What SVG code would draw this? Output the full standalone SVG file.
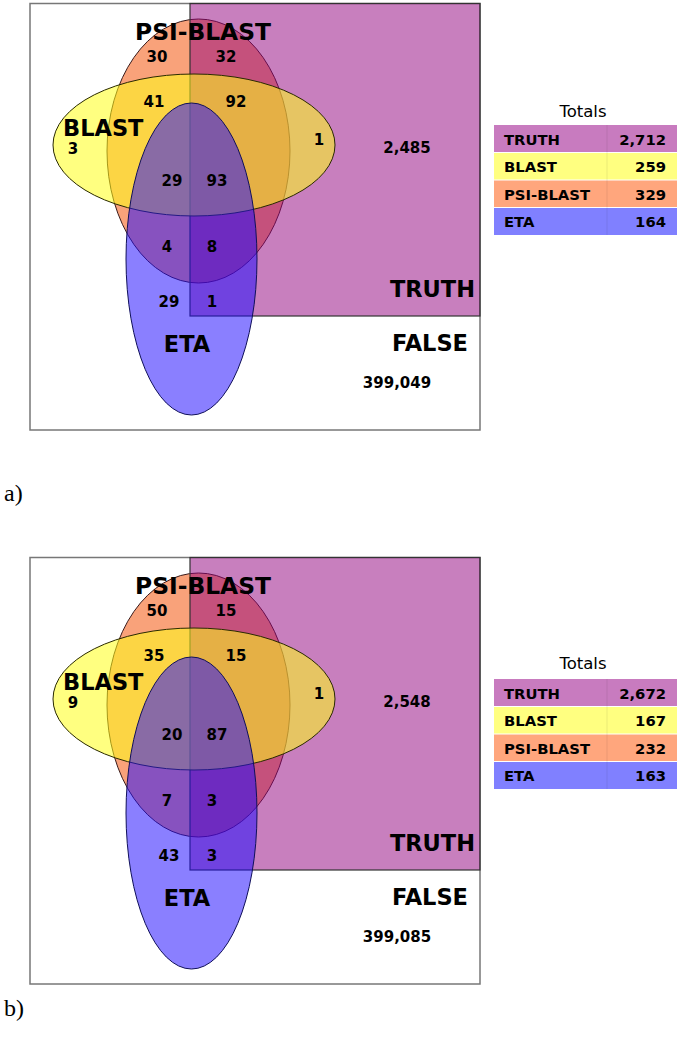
<svg xmlns="http://www.w3.org/2000/svg" width="685" height="1042" viewBox="0 0 685 1042">
<style>
.frame{fill:#fff;stroke:#777;stroke-width:1.5}
.psi{fill:#F9A27A;stroke:#3a1a1a;stroke-width:1}
.truth{fill:#91007D;fill-opacity:0.5;stroke:#333;stroke-width:1.2}
.blast{fill:#FFFF18;fill-opacity:0.55;stroke:#2a2a00;stroke-width:1}
.eta{fill:#1E0AFF;fill-opacity:0.52;stroke:#10105a;stroke-width:1}
text{font-family:"DejaVu Sans","Verdana",sans-serif;fill:#000}
.big{font-size:22.5px;font-weight:bold}
.num{font-size:15px;font-weight:bold;text-anchor:middle}
.mid{text-anchor:middle}
.end{text-anchor:end}
.tot{font-size:16.5px;text-anchor:middle}
.row{font-size:14.8px;font-weight:bold}
.sep{stroke:#fff;stroke-width:1}
.col{stroke:#000;stroke-opacity:0.08;stroke-width:1}
.tag{font-family:"Liberation Serif","Times New Roman",serif;font-size:24px}
</style>
<g id="connectors"/>
<g id="panel-a">
  <rect class="frame" x="30" y="3.5" width="450" height="426.5"/>
  <g id="a-psiblast"><ellipse class="psi" cx="198.5" cy="151" rx="91.5" ry="132"/></g>
  <g id="a-truth"><rect class="truth" x="190" y="3.5" width="290" height="312.5"/></g>
  <g id="a-blast"><ellipse class="blast" cx="194" cy="145" rx="141" ry="71"/></g>
  <g id="a-eta"><ellipse class="eta" cx="191.5" cy="259" rx="65.5" ry="156"/></g>
  <g id="a-labels">
    <text class="big mid" x="203" y="40" textLength="136" lengthAdjust="spacingAndGlyphs">PSI-BLAST</text>
    <text class="big" x="63" y="136">BLAST</text>
    <text class="big end" x="475" y="297">TRUTH</text>
    <text class="big end" x="468" y="351">FALSE</text>
    <text class="big mid" x="187" y="352">ETA</text>
    <text class="num" x="157" y="62">30</text>
    <text class="num" x="226" y="62">32</text>
    <text class="num" x="154" y="107">41</text>
    <text class="num" x="236" y="107">92</text>
    <text class="num" x="73" y="154">3</text>
    <text class="num" x="319" y="145">1</text>
    <text class="num" x="407" y="153">2,485</text>
    <text class="num" x="172" y="186">29</text>
    <text class="num" x="217" y="186">93</text>
    <text class="num" x="167" y="252">4</text>
    <text class="num" x="212" y="252">8</text>
    <text class="num" x="169" y="307">29</text>
    <text class="num" x="212" y="307">1</text>
    <text class="num" x="397" y="388">399,049</text>
  </g>
  <g id="a-totals">
    <text class="tot" x="583" y="117">Totals</text>
    <rect x="494" y="125" width="183" height="27.5" fill="#C87BBF"/>
    <rect x="494" y="152.5" width="183" height="27.5" fill="#FFFF80"/>
    <rect x="494" y="180" width="183" height="27.5" fill="#FFA67D"/>
    <rect x="494" y="207.5" width="183" height="27.5" fill="#8080FF"/>
    <line class="sep" x1="494" y1="152.5" x2="677" y2="152.5"/>
    <line class="sep" x1="494" y1="180" x2="677" y2="180"/>
    <line class="sep" x1="494" y1="207.5" x2="677" y2="207.5"/>
    <line class="col" x1="607" y1="125" x2="607" y2="235"/>
    <text class="row" x="504" y="145">TRUTH</text>
    <text class="row end" x="666" y="145">2,712</text>
    <text class="row" x="504" y="172">BLAST</text>
    <text class="row end" x="666" y="172">259</text>
    <text class="row" x="504" y="200">PSI-BLAST</text>
    <text class="row end" x="666" y="200">329</text>
    <text class="row" x="504" y="227">ETA</text>
    <text class="row end" x="666" y="227">164</text>
  </g>
  <text class="tag" x="4" y="501">a)</text>
</g>
<g id="panel-b" transform="translate(0,554)">
  <rect class="frame" x="30" y="3.5" width="450" height="426.5"/>
  <g id="b-psiblast"><ellipse class="psi" cx="198.5" cy="151" rx="91.5" ry="132"/></g>
  <g id="b-truth"><rect class="truth" x="190" y="3.5" width="290" height="312.5"/></g>
  <g id="b-blast"><ellipse class="blast" cx="194" cy="145" rx="141" ry="71"/></g>
  <g id="b-eta"><ellipse class="eta" cx="191.5" cy="259" rx="65.5" ry="156"/></g>
  <g id="b-labels">
    <text class="big mid" x="203" y="40" textLength="136" lengthAdjust="spacingAndGlyphs">PSI-BLAST</text>
    <text class="big" x="63" y="136">BLAST</text>
    <text class="big end" x="475" y="297">TRUTH</text>
    <text class="big end" x="468" y="351">FALSE</text>
    <text class="big mid" x="187" y="352">ETA</text>
    <text class="num" x="157" y="62">50</text>
    <text class="num" x="226" y="62">15</text>
    <text class="num" x="154" y="107">35</text>
    <text class="num" x="236" y="107">15</text>
    <text class="num" x="73" y="154">9</text>
    <text class="num" x="319" y="145">1</text>
    <text class="num" x="407" y="153">2,548</text>
    <text class="num" x="172" y="186">20</text>
    <text class="num" x="217" y="186">87</text>
    <text class="num" x="167" y="252">7</text>
    <text class="num" x="212" y="252">3</text>
    <text class="num" x="169" y="307">43</text>
    <text class="num" x="212" y="307">3</text>
    <text class="num" x="397" y="388">399,085</text>
  </g>
  <g id="b-totals">
    <text class="tot" x="583" y="115">Totals</text>
    <rect x="494" y="125" width="183" height="27.5" fill="#C87BBF"/>
    <rect x="494" y="152.5" width="183" height="27.5" fill="#FFFF80"/>
    <rect x="494" y="180" width="183" height="27.5" fill="#FFA67D"/>
    <rect x="494" y="207.5" width="183" height="27.5" fill="#8080FF"/>
    <line class="sep" x1="494" y1="152.5" x2="677" y2="152.5"/>
    <line class="sep" x1="494" y1="180" x2="677" y2="180"/>
    <line class="sep" x1="494" y1="207.5" x2="677" y2="207.5"/>
    <line class="col" x1="607" y1="125" x2="607" y2="235"/>
    <text class="row" x="504" y="145">TRUTH</text>
    <text class="row end" x="666" y="145">2,672</text>
    <text class="row" x="504" y="172">BLAST</text>
    <text class="row end" x="666" y="172">167</text>
    <text class="row" x="504" y="200">PSI-BLAST</text>
    <text class="row end" x="666" y="200">232</text>
    <text class="row" x="504" y="227">ETA</text>
    <text class="row end" x="666" y="227">163</text>
  </g>
  <text class="tag" x="4" y="462">b)</text>
</g>
</svg>
